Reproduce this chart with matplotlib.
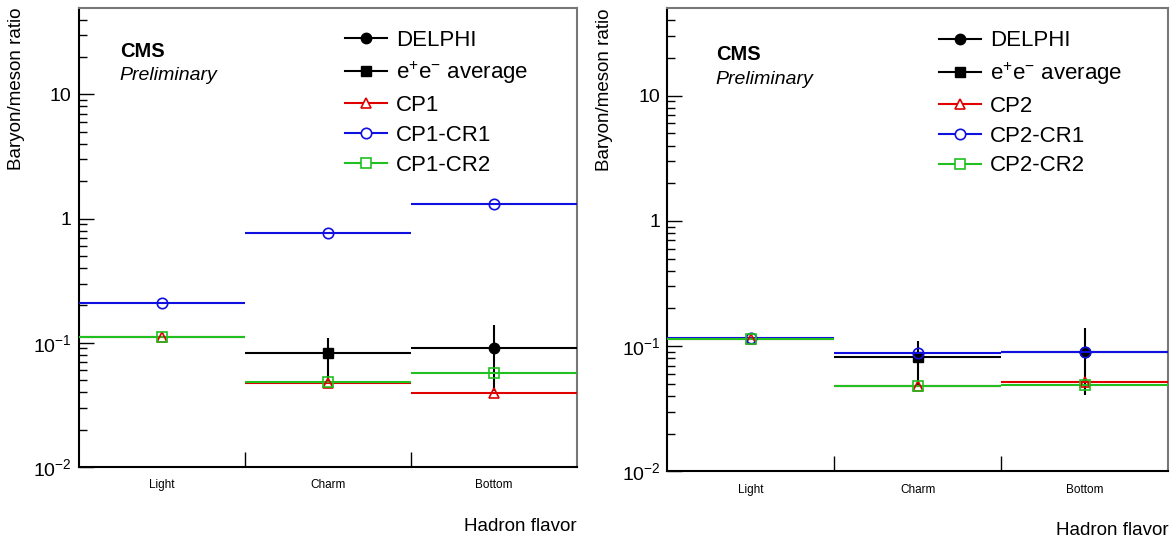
import numpy as np
import matplotlib
matplotlib.use('Agg')
import matplotlib.pyplot as plt
from matplotlib.lines import Line2D
from matplotlib.ticker import FixedLocator, NullFormatter

plt.rcParams['font.family'] = ['Liberation Sans', 'DejaVu Sans']
plt.rcParams['mathtext.fontset'] = 'custom'
plt.rcParams['mathtext.rm'] = 'Liberation Sans'
plt.rcParams['mathtext.it'] = 'Liberation Sans:italic'
plt.rcParams['mathtext.bf'] = 'Liberation Sans:bold'

# hadron flavor bins
categories = ['Light', 'Charm', 'Bottom']
bin_centers = [0.5, 1.5, 2.5]

# measurements (only one bin each)
delphi = [np.nan, np.nan, 0.090]
delphi_lo = [np.nan, np.nan, 0.049]
delphi_hi = [np.nan, np.nan, 0.049]
ee_avg = [np.nan, 0.082, np.nan]
ee_avg_lo = [np.nan, 0.035, np.nan]
ee_avg_hi = [np.nan, 0.028, np.nan]

# left panel: CP1 tunes
cp1 = [0.112, 0.0471, 0.0396]
cp1_cr1 = [0.209, 0.767, 1.31]
cp1_cr2 = [0.112, 0.0486, 0.0574]

# right panel: CP2 tunes
cp2 = [0.115, 0.0477, 0.0514]
cp2_cr1 = [0.116, 0.0878, 0.0903]
cp2_cr2 = [0.114, 0.0480, 0.0487]

RED = '#e00000'
BLUE = '#1010e0'
GREEN = '#20c020'


def draw_panel(ax, tune, model, cr1, cr2, cms_pos, legend_anchor):
    # data points with bin-width x errors
    ax.errorbar(bin_centers, ee_avg, xerr=0.5, yerr=[ee_avg_lo, ee_avg_hi],
                fmt='s', color='black', ms=7, lw=1.5, capsize=0, zorder=3)
    ax.errorbar(bin_centers, delphi, xerr=0.5, yerr=[delphi_lo, delphi_hi],
                fmt='o', color='black', ms=7.5, lw=1.5, capsize=0, zorder=3)
    # generator predictions
    for vals, col, mk in [(model, RED, '^'), (cr1, BLUE, 'o'), (cr2, GREEN, 's')]:
        ax.errorbar(bin_centers, vals, xerr=0.5, fmt=mk, color=col, mfc='none',
                    mec=col, mew=1.2, ms=7.5, lw=1.5, capsize=0, zorder=4)

    ax.set_yscale('log')
    ax.set_ylim(0.01, 50)
    ax.set_xlim(0, 3)

    ax.yaxis.set_major_locator(FixedLocator([0.01, 0.1, 1, 10]))
    ax.set_yticklabels(['$10^{-2}$', '$10^{-1}$', '1', '10'])
    minors = [m * 10.0 ** e for e in range(-2, 2) for m in range(2, 10)]
    ax.yaxis.set_minor_locator(FixedLocator([v for v in minors if v < 50]))
    ax.yaxis.set_minor_formatter(NullFormatter())
    ax.tick_params(axis='y', which='major', direction='in', length=11, width=1,
                   labelsize=14, pad=5, right=False)
    ax.tick_params(axis='y', which='minor', direction='in', length=6, width=1, right=False)

    ax.set_xticks(bin_centers)
    ax.set_xticklabels(categories)
    ax.set_xticks([1, 2], minor=True)
    ax.tick_params(axis='x', which='major', length=0, labelsize=8.5, pad=9, top=False)
    ax.tick_params(axis='x', which='minor', direction='in', length=11, width=1, top=False)

    for side in ['left', 'bottom']:
        ax.spines[side].set_linewidth(1.5)
        ax.spines[side].set_color('black')
    for side in ['top', 'right']:
        ax.spines[side].set_linewidth(1.5)
        ax.spines[side].set_color('#777777')

    ax.set_ylabel('Baryon/meson ratio', fontsize=13.5, loc='top', labelpad=6)
    ax.set_xlabel('Hadron flavor', fontsize=13.5, loc='right', labelpad=19)

    ax.text(cms_pos[0], cms_pos[1], 'CMS', transform=ax.transAxes, fontsize=14.5,
            fontweight='bold', va='center', ha='left')
    ax.text(cms_pos[0], cms_pos[1] - 0.052, 'Preliminary', transform=ax.transAxes,
            fontsize=14, style='italic', va='center', ha='left')

    handles = [
        Line2D([], [], color='black', marker='o', ms=7.5, lw=1.5),
        Line2D([], [], color='black', marker='s', ms=7, lw=1.5),
        Line2D([], [], color=RED, marker='^', mfc='white', mec=RED, mew=1.2, ms=7.5, lw=1.5),
        Line2D([], [], color=BLUE, marker='o', mfc='white', mec=BLUE, mew=1.2, ms=7.5, lw=1.5),
        Line2D([], [], color=GREEN, marker='s', mfc='white', mec=GREEN, mew=1.2, ms=7.5, lw=1.5),
    ]
    labels = ['DELPHI', r'e$^{+}$e$^{-}$ average', tune, tune + '-CR1', tune + '-CR2']
    ax.legend(handles, labels, loc='upper left', bbox_to_anchor=legend_anchor,
              frameon=False, fontsize=16, handlelength=1.9, handletextpad=0.4,
              labelspacing=0.4, borderpad=0, borderaxespad=0)


fig = plt.figure(figsize=(11.74, 5.38), dpi=100)
ax1 = fig.add_axes([0.0669, 0.132, 0.4244, 0.854])
ax2 = fig.add_axes([0.5683, 0.1238, 0.4268, 0.861])

draw_panel(ax1, 'CP1', cp1, cp1_cr1, cp1_cr2, (0.083, 0.905), (0.535, 0.952))
draw_panel(ax2, 'CP2', cp2, cp2_cr1, cp2_cr2, (0.097, 0.899), (0.543, 0.952))

fig.savefig('out.png', dpi=100)
